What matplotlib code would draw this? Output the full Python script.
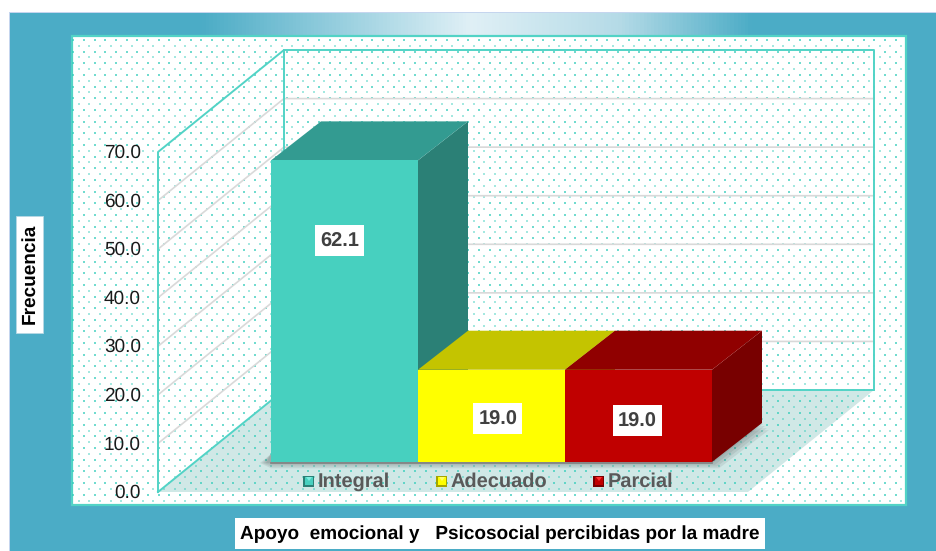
import numpy as np
import matplotlib
matplotlib.use('Agg')
import matplotlib.pyplot as plt
from matplotlib.patches import Polygon, Rectangle
from matplotlib.colors import LinearSegmentedColormap

plt.rcParams['font.family'] = ['Liberation Sans', 'DejaVu Sans']
plt.rcParams['text.hinting'] = 'no_hinting'
plt.rcParams['text.hinting_factor'] = 1

# Data
categories = ['Integral', 'Adecuado', 'Parcial']
values = [62.1, 19.0, 19.0]
value_labels = ['62.1', '19.0', '19.0']
y_ticks = [0, 10, 20, 30, 40, 50, 60, 70]
y_tick_labels = ['0.0', '10.0', '20.0', '30.0', '40.0', '50.0', '60.0', '70.0']
x_title = 'Apoyo  emocional y   Psicosocial percibidas por la madre'
y_title = 'Frecuencia'

# Colors for each bar: front, top, side
front_colors = ['#47D0BF', '#FFFF00', '#C00000']
top_colors = ['#339B91', '#C4C400', '#900000']
side_colors = ['#2B8076', '#A5A500', '#780000']

# Geometry of the fake 3D box, in pixels
x0, x1 = 158, 748
y_zero = 492
px_per_unit = 340 / 70
depth_x, depth_y = 126, 102
bar_left = 271
bar_width = 147.0
bar_lift_y = 30
bar_depth_x, bar_depth_y = 50, 39
teal = '#52D3C6'
frame_blue = '#4BACC6'


def val_y(v):
    return y_zero - v * px_per_unit


fig = plt.figure(figsize=(9.37, 5.51), dpi=100)
ax = fig.add_axes([0, 0, 1, 1])
ax.axis('off')

# Outer frame with the light band on top
ax.add_patch(Rectangle((9, 12), 928, 539, fc='#C5D5EE', ec='none', zorder=0))
ax.add_patch(Rectangle((10, 13), 927, 538, fc=frame_blue, ec='none', zorder=0.1))
band = LinearSegmentedColormap.from_list('band', [
    (0, frame_blue), (190 / 927, frame_blue), (460 / 927, '#E0F0F6'),
    (610 / 927, '#B5DBE7'), (744 / 927, frame_blue), (1, frame_blue)])
ax.imshow(np.linspace(0, 1, 927).reshape(1, -1), cmap=band, aspect='auto',
          extent=(10, 937, 36, 13), zorder=0.2)
ax.set_xlim(0, 937)
ax.set_ylim(551, 0)

# Inner panel
ax.add_patch(Rectangle((72, 36), 834, 469, fc='white', ec=teal, lw=1.6, zorder=1))

# Floor
ax.add_patch(Polygon([(x0, y_zero), (x1, y_zero), (x1 + depth_x, y_zero - depth_y),
                      (x0 + depth_x, y_zero - depth_y)],
                     fc='#D0E8E6', ec='none', zorder=1.2))

# Dot pattern of the panel
for i, row_y in enumerate(np.arange(40.0, 503, 5.83)):
    start = 73.3 if i % 2 == 0 else 78.6
    xs = np.arange(start, 905, 10.68)
    ax.scatter(xs, np.full(len(xs), row_y), s=2.0, marker='s', lw=0, color='#35CDBB',
               alpha=0.7 if i % 2 == 0 else 0.45, zorder=1.4)

# Gridlines
for t in y_ticks[1:-1]:
    y = val_y(t)
    ax.plot([x0, x0 + depth_x, x1 + depth_x], [y, y - depth_y, y - depth_y],
            color='#D9D9D9', lw=1.2, zorder=1.6)

# Walls
top = val_y(y_ticks[-1])
ax.plot([x0, x0, x0 + depth_x, x1 + depth_x, x1 + depth_x, x0 + depth_x, x0],
        [y_zero, top, top - depth_y, top - depth_y, y_zero - depth_y, y_zero - depth_y, y_zero],
        color=teal, lw=1.4, zorder=1.8)
ax.plot([x0 + depth_x, x0 + depth_x], [top - depth_y, y_zero - depth_y], color=teal, lw=1.4, zorder=1.8)

# Tick labels
for t, lab in zip(y_ticks, y_tick_labels):
    ax.text(141, val_y(t) + 1, lab, ha='right', va='center', fontsize=13.5, color='#1A1A1A', zorder=3)

# Soft shadow under the bars
base_y = val_y(0) - bar_lift_y
right = bar_left + bar_width * len(values)
for grow in [1, 3, 5, 7]:
    ax.add_patch(Polygon([(bar_left - grow - 4, base_y + 1), (bar_left, base_y - 8),
                          (right + bar_depth_x + grow, base_y - bar_depth_y + grow),
                          (right + grow, base_y + grow * 0.9), (bar_left, base_y + grow * 0.9)],
                         fc='#404040', ec='none', alpha=0.1, zorder=2))

# Bars, drawn left to right so that each one covers the side of the previous
for i, v in enumerate(values):
    left = bar_left + i * bar_width
    rgt = left + bar_width
    y_top = base_y - v * px_per_unit
    z = 2.2 + i * 0.1
    ax.add_patch(Polygon([(rgt, y_top), (rgt + bar_depth_x, y_top - bar_depth_y),
                          (rgt + bar_depth_x, base_y - bar_depth_y), (rgt, base_y)],
                         fc=side_colors[i], ec='none', zorder=z))
    ax.add_patch(Polygon([(left, y_top), (left + bar_depth_x, y_top - bar_depth_y),
                          (rgt + bar_depth_x, y_top - bar_depth_y), (rgt, y_top)],
                         fc=top_colors[i], ec='none', zorder=z))
    ax.add_patch(Rectangle((left, y_top), bar_width, v * px_per_unit,
                           fc=front_colors[i], ec='none', zorder=z + 0.01))
ax.plot([bar_left, right], [base_y + 0.5, base_y + 0.5], color='#808080', lw=1.2, zorder=2.6)

# Value labels in white boxes
label_pos = [(339.5, 240.5), (498, 418.5), (637.5, 420.5)]
for (cx, cy), lab in zip(label_pos, value_labels):
    ax.add_patch(Rectangle((cx - 24.5, cy - 15.5), 49, 31, fc='white', ec='none', zorder=3.9))
    ax.text(cx, cy + 1, lab, ha='center', va='center', fontsize=14.5, fontweight='bold',
            color='#404040', zorder=4)

# Legend
legend_marker_x = [309, 442, 599]
legend_light = ['#7DEDE0', '#FFFF66', '#FF3030']
for mx, name, fc, dark, light in zip(legend_marker_x, categories, front_colors, side_colors, legend_light):
    ax.add_patch(Rectangle((mx - 5.5, 475.5), 11, 11, fc=dark, ec='none', zorder=3))
    ax.add_patch(Rectangle((mx - 4, 477), 8, 8, fc=fc, ec='none', zorder=3.1))
    ax.add_patch(Polygon([(mx - 3, 477), (mx + 3, 477), (mx, 481)], fc=light, ec='none', zorder=3.15))
    ax.text(mx + 9, 487, name, ha='left', va='baseline', fontsize=14.1, fontweight='bold',
            color='#595959', zorder=3.2)

# Axis titles in white boxes
ax.add_patch(Rectangle((16, 216), 27, 117, fc='white', ec='#B8D8E4', lw=0.6, zorder=3))
ax.text(30, 274, y_title, rotation=90, ha='center', va='center', fontsize=14,
        fontweight='bold', color='black', zorder=3.1)
ax.add_patch(Rectangle((235, 518), 530, 31, fc='white', ec='none', zorder=3))
ax.text(500, 534.5, x_title, ha='center', va='center', fontsize=13.9, fontweight='bold',
        color='black', zorder=3.1)

fig.savefig('out.png', dpi=100)
